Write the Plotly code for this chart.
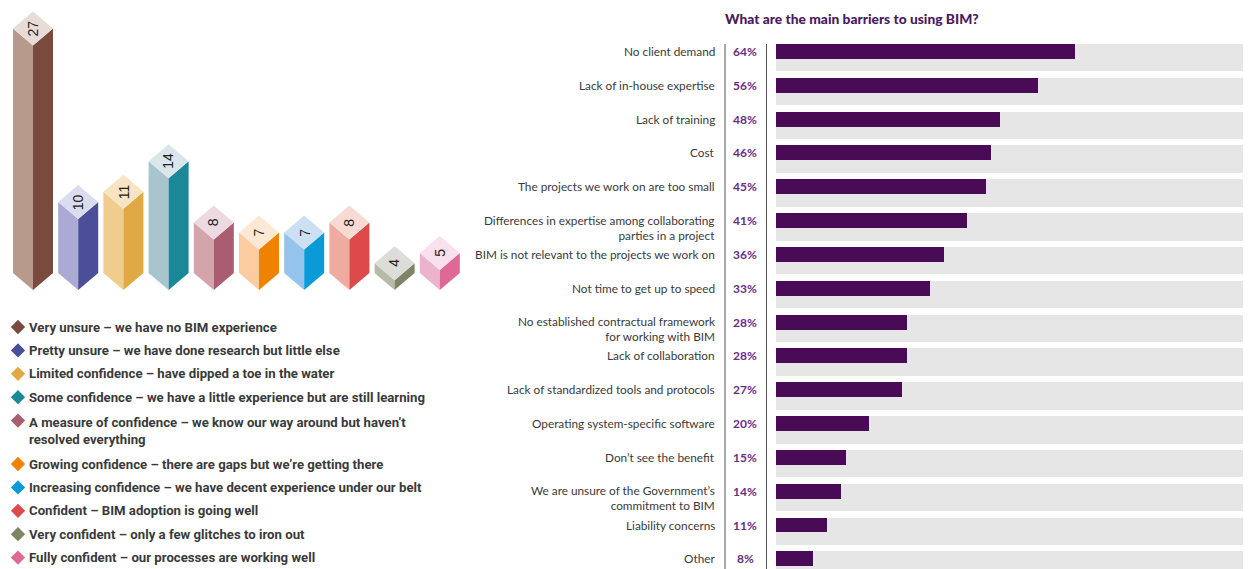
import plotly.graph_objects as go

W, H = 1248, 569

# ---------------- data ----------------
conf_values = [27, 10, 11, 14, 8, 7, 7, 8, 4, 5]
conf_labels = [
    "Very unsure – we have no BIM experience",
    "Pretty unsure – we have done research but little else",
    "Limited confidence – have dipped a toe in the water",
    "Some confidence – we have a little experience but are still learning",
    "A measure of confidence – we know our way around but haven’t<br>resolved everything",
    "Growing confidence – there are gaps but we’re getting there",
    "Increasing confidence – we have decent experience under our belt",
    "Confident – BIM adoption is going well",
    "Very confident – only a few glitches to iron out",
    "Fully confident – our processes are working well",
]
conf_light = ["#b89a8c", "#aaaad4", "#f0cc8e", "#a8c4cc", "#d4a4ac",
              "#fccca0", "#94c4ec", "#eeaca0", "#b8baa8", "#ecb4cc"]
conf_dark = ["#7a4a3e", "#4a4f98", "#e1a944", "#1a8896", "#aa5c70",
             "#ef8200", "#0a9ad8", "#dc4a4c", "#7e8466", "#de6896"]
conf_top = ["#e8dcd6", "#dcdcf0", "#f7e4c2", "#dae6ea", "#ecdae0",
            "#fde8d6", "#cce0f4", "#f8dad4", "#dcdcd8", "#f8e0ec"]

barrier_labels = [
    "No client demand",
    "Lack of in-house expertise",
    "Lack of training",
    "Cost",
    "The projects we work on are too small",
    "Differences in expertise among collaborating<br>parties in a project",
    "BIM is not relevant to the projects we work on",
    "Not time to get up to speed",
    "No established contractual framework<br>for working with BIM",
    "Lack of collaboration",
    "Lack of standardized tools and protocols",
    "Operating system-specific software",
    "Don’t see the benefit",
    "We are unsure of the Government’s<br>commitment to BIM",
    "Liability concerns",
    "Other",
]
barrier_values = [64, 56, 48, 46, 45, 41, 36, 33, 28, 28, 27, 20, 15, 14, 11, 8]

title_text = "What are the main barriers to using BIM?"

# ---------------- styling constants ----------------
PURPLE = "#4a0b56"
PCT_PURPLE = "#6b2d84"
GREY_BAND = "#e6e6e6"
LABEL_COL = "#3a3a3a"

# prism geometry in pixel units of the left axes
px0, pitch = 33, 45.2
half_w, dia = 20, 17
base_y = 290
scale_k, scale_c = 10.2, 3

fig = go.Figure()

# ---------------- left: isometric prisms ----------------
for i, v in enumerate(conf_values):
    cx = px0 + i * pitch
    top = base_y - (scale_k * v + scale_c)
    fig.add_trace(go.Scatter(
        x=[cx - half_w, cx, cx, cx - half_w, cx - half_w],
        y=[top + dia, top + 2 * dia, base_y, base_y - dia, top + dia],
        fill="toself", fillcolor=conf_light[i], mode="lines",
        line=dict(width=0, color=conf_light[i]), hoverinfo="skip",
        xaxis="x", yaxis="y", showlegend=False))
    fig.add_trace(go.Scatter(
        x=[cx, cx + half_w, cx + half_w, cx, cx],
        y=[top + 2 * dia, top + dia, base_y - dia, base_y, top + 2 * dia],
        fill="toself", fillcolor=conf_dark[i], mode="lines",
        line=dict(width=0, color=conf_dark[i]), hoverinfo="skip",
        xaxis="x", yaxis="y", showlegend=False))
    fig.add_trace(go.Scatter(
        x=[cx, cx + half_w, cx, cx - half_w, cx],
        y=[top, top + dia, top + 2 * dia, top + dia, top],
        fill="toself", fillcolor=conf_top[i], mode="lines",
        line=dict(width=0, color=conf_top[i]), hoverinfo="skip",
        xaxis="x", yaxis="y", showlegend=False))
    fig.add_annotation(
        x=cx, y=top + dia, xref="x", yref="y", text=str(v), textangle=-90,
        showarrow=False, font=dict(family="Liberation Sans, Arial", size=14, color="#222222"))

# legend
leg_x_marker, leg_x_text = 18, 27
leg_y0, leg_step, leg_extra = 327, 23.4, 20
leg_ys = []
extra = 0
for i, lab in enumerate(conf_labels):
    leg_ys.append(leg_y0 + i * leg_step + extra)
    if "<br>" in lab:
        extra += leg_extra
fig.add_trace(go.Scatter(
    x=[leg_x_marker] * len(conf_labels), y=leg_ys, mode="markers",
    marker=dict(symbol="diamond", size=11, color=conf_dark, line=dict(width=0)),
    hoverinfo="skip", xaxis="x", yaxis="y", showlegend=False))
for lab, yy in zip(conf_labels, leg_ys):
    fig.add_annotation(
        x=leg_x_text, y=yy, xref="x", yref="y", text=lab, showarrow=False,
        xanchor="left", yanchor="middle", align="left",
        yshift=-10 if "<br>" in lab else 0,
        font=dict(family="Roboto, sans-serif", size=13.2, color=LABEL_COL, weight="bold"))

# ---------------- right: barrier bars ----------------
rows = list(range(len(barrier_values)))
fig.add_trace(go.Bar(
    x=[100] * len(rows), y=rows, orientation="h", width=0.81, offset=-0.22,
    marker=dict(color=GREY_BAND, line=dict(width=0)), hoverinfo="skip",
    xaxis="x2", yaxis="y2", showlegend=False))
fig.add_trace(go.Bar(
    x=barrier_values, y=rows, orientation="h", width=0.44, offset=-0.22,
    marker=dict(color=PURPLE, line=dict(width=0)), hoverinfo="skip",
    xaxis="x2", yaxis="y2", showlegend=False))

for r, lab, v in zip(rows, barrier_labels, barrier_values):
    fig.add_annotation(
        x=717 / W, xref="paper", y=r, yref="y2", text=lab, showarrow=False,
        xanchor="right", yanchor="middle", align="right",
        yshift=-7 if "<br>" in lab else 0,
        font=dict(family="Lato, sans-serif", size=11.8, color=LABEL_COL))
    fig.add_annotation(
        x=745 / W, xref="paper", y=r, yref="y2", text=f"<b>{v}%</b>", showarrow=False,
        xanchor="center", yanchor="middle",
        font=dict(family="Lato, sans-serif", size=12, color=PCT_PURPLE))

fig.add_annotation(
    x=723 / W, xref="paper", y=(H - 19) / H, yref="paper", text=title_text,
    showarrow=False, xanchor="left", yanchor="middle",
    font=dict(family="Lato, sans-serif", size=13.8, color="#4a1a5e", weight=900))

fig.add_shape(type="line", xref="paper", yref="y2 domain",
              x0=725 / W, x1=725 / W, y0=0, y1=1,
              line=dict(color="#555555", width=1))

top_frac = (H - 44) / H
fig.update_layout(
    width=W, height=H, margin=dict(l=0, r=0, t=0, b=0),
    paper_bgcolor="white", plot_bgcolor="white",
    barmode="overlay", bargap=0,
    xaxis=dict(domain=[0, 460 / W], range=[0, 460], visible=False, fixedrange=True),
    yaxis=dict(domain=[0, 1], range=[H, 0], visible=False, fixedrange=True),
    xaxis2=dict(domain=[767 / W, 1243 / W], range=[-1.93, 100], anchor="y2",
                showgrid=False, zeroline=False, showticklabels=False, ticks="",
                showline=False, fixedrange=True),
    yaxis2=dict(domain=[0, top_frac], range=[15.30, -0.22], anchor="x2",
                showgrid=False, zeroline=False, showticklabels=False, ticks="",
                showline=True, linecolor="#555555", linewidth=1, fixedrange=True),
)

fig.write_html("out.html")
